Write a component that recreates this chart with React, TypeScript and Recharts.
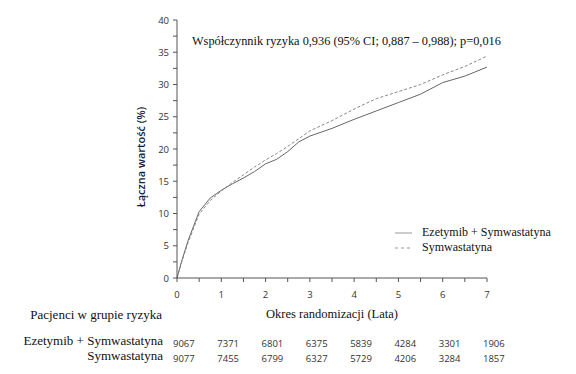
import { LineChart, Line, XAxis, YAxis } from 'recharts';

const years = [0, 0.1, 0.25, 0.5, 0.75, 1, 1.25, 1.5, 1.75, 2, 2.25, 2.5, 2.75, 3, 3.5, 4, 4.5, 5, 5.5, 6, 6.5, 7];
const ezeSym = [0, 2.5, 5.8, 10.3, 12.4, 13.6, 14.6, 15.5, 16.5, 17.7, 18.4, 19.6, 21.1, 22.0, 23.2, 24.6, 25.9, 27.2, 28.5, 30.3, 31.3, 32.7];
const sym = [0, 2.3, 5.5, 9.9, 12.0, 13.5, 14.8, 16.0, 17.2, 18.3, 19.3, 20.4, 21.6, 22.8, 24.4, 26.2, 27.8, 28.9, 30.0, 31.5, 32.8, 34.4];

const xTicks = [0, 0.5, 1, 1.5, 2, 2.5, 3, 3.5, 4, 4.5, 5, 5.5, 6, 6.5, 7];
const yTicks = [0, 2.5, 5, 7.5, 10, 12.5, 15, 17.5, 20, 22.5, 25, 27.5, 30, 32.5, 35, 37.5, 40];
const riskEzeSym = [9067, 7371, 6801, 6375, 5839, 4284, 3301, 1906];
const riskSym = [9077, 7455, 6799, 6327, 5729, 4206, 3284, 1857];

const data = years.map((t, i) => ({ t, ezeSym: ezeSym[i], sym: sym[i] }));

const serif = '"Liberation Serif", "Times New Roman", serif';
const sans = '"Open Sans", "DejaVu Sans", sans-serif';

function XTick(props: any) {
  const { x, y, payload } = props;
  const v = payload.value as number;
  if (!Number.isInteger(v)) return null;
  return (
    <g>
      <text x={x} y={y + 14} textAnchor="middle" fontSize={9.5} fill="#333" fontFamily={sans}>
        {v}
      </text>
      <text x={x - 4} y={y + 63} fontSize={9.5} fill="#333" fontFamily={sans}>
        {riskEzeSym[v]}
      </text>
      <text x={x - 4} y={y + 78} fontSize={9.5} fill="#333" fontFamily={sans}>
        {riskSym[v]}
      </text>
    </g>
  );
}

function YTick(props: any) {
  const { x, y, payload } = props;
  const v = payload.value as number;
  if (v % 5 !== 0) return null;
  return (
    <text x={x - 2} y={y + 3.5} textAnchor="end" fontSize={9.5} fill="#333" fontFamily={sans}>
      {v}
    </text>
  );
}

const legendItems = [
  { label: 'Ezetymib + Symwastatyna', dash: undefined, color: '#999' },
  { label: 'Symwastatyna', dash: '3 3', color: '#999' },
];

export default function App() {
  return (
    <div style={{ position: 'absolute', left: 0, top: 0, width: 576, height: 374, background: '#fff' }}>
      <LineChart width={576} height={374} data={data} margin={{ top: 20, right: 89, bottom: 76, left: 147 }}>
        <XAxis
          dataKey="t"
          type="number"
          domain={[0, 7]}
          ticks={xTicks}
          interval={0}
          stroke="#555"
          tickSize={4}
          tick={<XTick />}
          height={20}
          label={{
            value: 'Okres randomizacji (Lata)',
            position: 'bottom',
            offset: 11,
            style: { fontFamily: serif, fontSize: 12.5, fill: '#111' },
          }}
        />
        <YAxis
          type="number"
          domain={[0, 40]}
          ticks={yTicks}
          interval={0}
          stroke="#555"
          tickSize={4}
          width={30}
          tick={<YTick />}
          label={{
            value: 'Łączna wartość (%)',
            angle: -90,
            position: 'left',
            offset: 6,
            dy: 8,
            style: { fontFamily: sans, fontSize: 11, fontWeight: 600, fill: '#1a1a3a', textAnchor: 'middle' },
          }}
        />
        <Line type="linear" dataKey="ezeSym" stroke="#666" strokeWidth={1} dot={false} isAnimationActive={false} />
        <Line type="linear" dataKey="sym" stroke="#888" strokeWidth={1} strokeDasharray="3 2" dot={false} isAnimationActive={false} />
      </LineChart>
      <div style={{ position: 'absolute', left: 395, top: 225, fontFamily: serif, fontSize: 12, color: '#111' }}>
        {legendItems.map((it) => (
          <div key={it.label} style={{ display: 'flex', alignItems: 'center', height: 15, whiteSpace: 'nowrap' }}>
            <svg width={22} height={10}>
              <line x1={0} y1={5} x2={17} y2={5} stroke={it.color} strokeWidth={1} strokeDasharray={it.dash} />
            </svg>
            <span style={{ marginLeft: 5 }}>{it.label}</span>
          </div>
        ))}
      </div>
      <div style={{ position: 'absolute', left: 192, top: 34, fontFamily: serif, fontSize: 12.3, color: '#111', whiteSpace: 'nowrap' }}>
        Współczynnik ryzyka 0,936 (95% CI; 0,887 – 0,988); p=0,016
      </div>
      <div style={{ position: 'absolute', right: 414, top: 307, fontFamily: serif, fontSize: 13, color: '#111', whiteSpace: 'nowrap' }}>
        Pacjenci w grupie ryzyka
      </div>
      <div style={{ position: 'absolute', right: 413, top: 333, fontFamily: serif, fontSize: 13, color: '#111', whiteSpace: 'nowrap', textAlign: 'right', lineHeight: '15px' }}>
        Ezetymib + Symwastatyna
        <br />
        Symwastatyna
      </div>
    </div>
  );
}
